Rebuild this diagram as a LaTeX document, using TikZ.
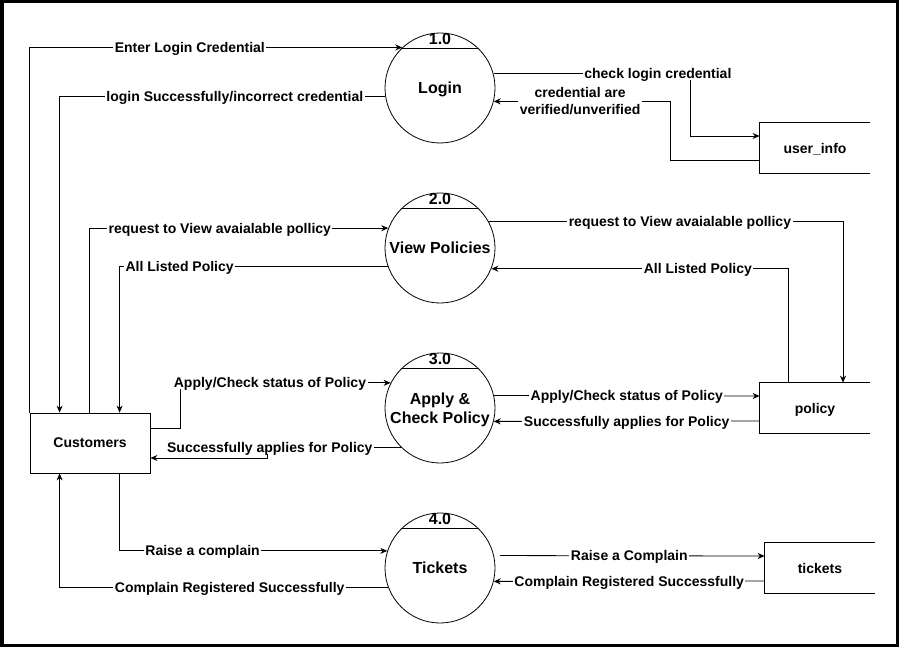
\documentclass[tikz,border=0pt]{standalone}
\usepackage{fontspec}
\setmainfont{Liberation Sans}
\usetikzlibrary{arrows.meta}

\tikzset{
  proc/.style={circle, draw, minimum size=110pt, inner sep=0pt, align=center, text depth=0pt, font=\bfseries\fontsize{16}{19}\selectfont},
  num/.style={inner sep=0pt, font=\bfseries\fontsize{16}{19}\selectfont},
  ext/.style={draw, minimum width=120pt, minimum height=60pt, inner sep=0pt, text depth=0pt, font=\bfseries\fontsize{14}{16}\selectfont},
  store/.style={minimum width=110pt, minimum height=50pt, inner sep=0pt, text depth=0pt, font=\bfseries\fontsize{14}{16}\selectfont},
  lbl/.style={fill=white, inner sep=1.5pt, align=center, text depth=0pt, font=\bfseries\fontsize{14}{17}\selectfont},
  flow/.style={-{Stealth[length=7pt,width=6pt]}},
}

\begin{document}
\begin{tikzpicture}[x=1pt, y=-1pt, line width=0.8pt]
		\useasboundingbox (0,0) rectangle (899,647);
		\draw[line width=3.5pt] (1.75,1.75) rectangle (897.25,645.25);

		% processes
		\node[proc] (login) at (440,88) {Login};
		\node[proc] (view) at (440,248) {View Policies};
		\node[proc] (apply) at (440,408) {Apply \&\\Check Policy};
		\node[proc] (tick) at (440,568) {Tickets};
		\foreach \p/\n in {login/1.0, view/2.0, apply/3.0, tick/4.0} {
			\draw (\p.135) -- (\p.45);
			\node[num] (\p-num) at ([yshift=49pt]\p.center) {\n};
		}

		% entity and data stores
		\node[ext] (cust) at (90,443) {Customers};
		\node[store] (userinfo) at (815,148) {user\_info};
		\node[store] (policy) at (815,408) {policy};
		\node[store] (tickstore) at (820,568) {tickets};
		\foreach \s in {userinfo, policy, tickstore}
			\draw (\s.north east) -- (\s.north west) -- (\s.south west) -- (\s.south east);

		% login flows
		\draw[flow] (cust.north west) |- node[lbl, pos=0.715] {Enter Login Credential} (login.133);
		\draw[flow] (login.189) -| node[lbl, pos=0.231] {login Successfully/incorrect credential} ([xshift=30pt]cust.north west);
		\draw[flow] (login.15) -| node[lbl, pos=0.417] {check login credential} ([xshift=-69pt, yshift=12pt]userinfo.west) -- ([yshift=12pt]userinfo.west);
		\draw[flow] ([yshift=-12pt]userinfo.west) -- ++(-89,0) |- node[lbl, pos=0.756] {credential are\\verified/unverified} (login.-14);

		% view policies flows
		\draw[flow] ([xshift=60pt]cust.north west) |- node[lbl, pos=0.718] {request to View avaialable pollicy} (view.159);
		\draw[flow] (view.199) -| node[lbl, pos=0.388] {All Listed Policy} ([xshift=90pt]cust.north west);
		\draw[flow] (view.29) -| node[lbl, pos=0.27] {request to View avaialable pollicy} ([xshift=28pt]policy.north);
		\draw[flow] ([xshift=-27pt]policy.north) |- node[lbl, pos=0.652] {All Listed Policy} (view.-22);

		% apply flows
		\draw[flow] ([yshift=15pt]cust.east) -- ++(30,0) |- node[lbl, pos=0.713] {Apply/Check status of Policy} (apply.153);
		\draw[flow] (apply.225) -- node[lbl, pos=0.985] {Successfully applies for Policy} ++(-133,0) |- ([yshift=-15pt]cust.east);
		\draw[flow] (apply.13) -- node[lbl] {Apply/Check status of Policy} ([yshift=12pt]policy.west);
		\draw[flow] ([yshift=-13pt]policy.west) -- node[lbl] {Successfully applies for Policy} (apply.-14);

		% ticket flows
		\draw[flow] ([xshift=90pt]cust.south west) |- node[lbl, pos=0.655] {Raise a complain} (tick.162);
		\draw[flow] (tick.200) -| node[lbl, pos=0.241] {Complain Registered Successfully} ([xshift=30pt]cust.south west);
		\draw[flow, shorten <=6pt] (tick.13) -- node[lbl] {Raise a Complain} ([yshift=12pt]tickstore.west);
		\draw[flow] ([yshift=-13pt]tickstore.west) -- node[lbl] {Complain Registered Successfully} (tick.-14);
\end{tikzpicture}
\end{document}
